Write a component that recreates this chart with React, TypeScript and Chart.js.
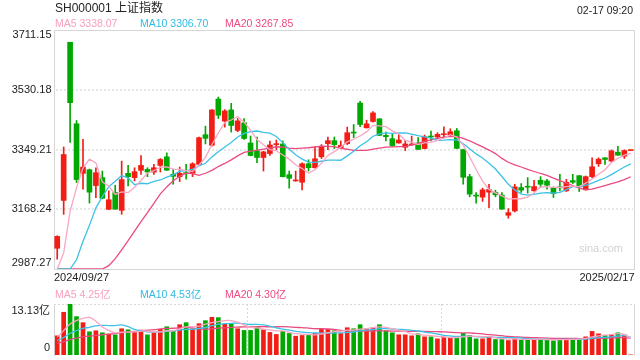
import React, { useEffect, useRef } from "react";
import { Chart, registerables } from "chart.js";

Chart.register(...registerables);

// ---------- data ----------
const TITLE = "SH000001 上证指数";
const STAMP = "02-17 09:20";
const dates: string[] = (
  "2024/09/27 2024/09/30 " +
  "2024/10/08 2024/10/09 2024/10/10 2024/10/11 2024/10/14 2024/10/15 2024/10/16 2024/10/17 2024/10/18 " +
  "2024/10/21 2024/10/22 2024/10/23 2024/10/24 2024/10/25 2024/10/28 2024/10/29 2024/10/30 2024/10/31 " +
  "2024/11/01 2024/11/04 2024/11/05 2024/11/06 2024/11/07 2024/11/08 2024/11/11 2024/11/12 2024/11/13 2024/11/14 " +
  "2024/11/15 2024/11/18 2024/11/19 2024/11/20 2024/11/21 2024/11/22 2024/11/25 2024/11/26 2024/11/27 2024/11/28 2024/11/29 " +
  "2024/12/02 2024/12/03 2024/12/04 2024/12/05 2024/12/06 2024/12/09 2024/12/10 2024/12/11 2024/12/12 2024/12/13 " +
  "2024/12/16 2024/12/17 2024/12/18 2024/12/19 2024/12/20 2024/12/23 2024/12/24 2024/12/25 2024/12/26 2024/12/27 " +
  "2024/12/30 2024/12/31 " +
  "2025/01/02 2025/01/03 2025/01/06 2025/01/07 2025/01/08 2025/01/09 2025/01/10 2025/01/13 2025/01/14 2025/01/15 " +
  "2025/01/16 2025/01/17 2025/01/20 2025/01/21 2025/01/22 2025/01/23 2025/01/24 2025/01/27 " +
  "2025/02/05 2025/02/06 2025/02/07 2025/02/10 2025/02/11 2025/02/12 2025/02/13 2025/02/14 2025/02/17"
).split(" ");

const opens: number[] = [
  3050, 3195, 3674, 3427, 3277, 3288, 3240, 3264, 3168, 3219,
  3165, 3277, 3264, 3286, 3289, 3281, 3301, 3327, 3274, 3267,
  3278, 3277, 3304, 3394, 3362, 3502, 3435, 3469, 3407, 3430,
  3369, 3345, 3325, 3337, 3364, 3366, 3273, 3254, 3250, 3306,
  3294, 3327, 3367, 3376, 3353, 3367, 3402, 3490, 3415, 3434,
  3442, 3392, 3382, 3369, 3356, 3363, 3369, 3352, 3390, 3387,
  3394, 3393, 3406, 3349, 3267, 3211, 3205, 3220, 3219, 3211,
  3150, 3163, 3234, 3238, 3224, 3256, 3254, 3232, 3236, 3224,
  3255, 3270, 3227, 3267, 3306, 3324, 3314, 3341, 3329, 3346,
];
const highs: number[] = [
  3088, 3357, 3674, 3437, 3380, 3290, 3294, 3284, 3224, 3241,
  3314, 3301, 3294, 3331, 3294, 3304, 3322, 3339, 3289, 3296,
  3304, 3309, 3387, 3420, 3470, 3508, 3470, 3489, 3443, 3443,
  3390, 3387, 3344, 3375, 3378, 3375, 3284, 3284, 3309, 3318,
  3357, 3364, 3387, 3387, 3375, 3417, 3425, 3495, 3438, 3464,
  3443, 3402, 3397, 3395, 3377, 3390, 3385, 3393, 3405, 3400,
  3418, 3412, 3413, 3350, 3274, 3219, 3232, 3244, 3226, 3219,
  3170, 3244, 3246, 3264, 3256, 3267, 3259, 3236, 3274, 3259,
  3274, 3270, 3269, 3324, 3324, 3325, 3348, 3359, 3348, 3346,
];
const lows: number[] = [
  3017, 3153, 3371, 3249, 3229, 3187, 3203, 3200, 3167, 3168,
  3153, 3239, 3254, 3274, 3267, 3274, 3281, 3286, 3244, 3252,
  3259, 3267, 3300, 3366, 3359, 3443, 3417, 3402, 3403, 3380,
  3330, 3309, 3284, 3331, 3349, 3266, 3232, 3253, 3227, 3284,
  3293, 3322, 3349, 3352, 3352, 3364, 3385, 3418, 3414, 3432,
  3391, 3375, 3359, 3368, 3346, 3362, 3349, 3351, 3375, 3385,
  3385, 3390, 3352, 3244, 3206, 3187, 3192, 3173, 3206, 3168,
  3141, 3160, 3219, 3217, 3223, 3234, 3229, 3204, 3224, 3222,
  3246, 3222, 3226, 3264, 3298, 3304, 3312, 3331, 3322, 3346,
];
const closes: number[] = [
  3086, 3334, 3491, 3258, 3296, 3220, 3279, 3201.5, 3197, 3168.5,
  3258, 3267, 3282, 3301, 3281, 3294, 3319, 3286.5, 3268, 3277,
  3276, 3306, 3385, 3383, 3469, 3453, 3466, 3422, 3436, 3382.5,
  3331, 3325, 3342, 3363, 3366, 3267, 3262, 3256, 3306, 3294,
  3321, 3359, 3376, 3364, 3362, 3400, 3399, 3425, 3427, 3460,
  3392, 3388, 3361, 3378, 3366, 3365, 3349.5, 3388, 3387, 3395,
  3397, 3403, 3352.5, 3265, 3214, 3208, 3227, 3228, 3212, 3168.5,
  3158, 3236, 3226, 3235, 3237, 3244, 3241, 3216, 3233, 3250,
  3250, 3236, 3267, 3297, 3320, 3319, 3345, 3332, 3346, 3346,
];
// closes of the 19 sessions before the first candle (only used to warm up the MAs)
const prevCloses: number[] = [
  2823.1, 2842.2, 2811.0, 2803.0, 2784.3, 2788.3, 2765.8, 2736.5, 2744.2, 2721.8,
  2717.1, 2704.1, 2717.3, 2736.0, 2736.8, 2748.9, 2863.1, 2896.3, 3001.0,
];

// volume, unit 亿
const volumes: number[] = [
  4.94, 11.0, 13.13, 9.88, 8.32, 5.98, 6.24, 5.72, 5.37, 5.2,
  6.76, 6.5, 5.89, 6.41, 5.2, 5.72, 6.59, 7.28, 6.24, 7.8,
  8.32, 6.76, 8.06, 8.84, 9.71, 9.62, 7.97, 8.15, 6.76, 6.33,
  6.33, 7.28, 6.5, 5.81, 5.29, 6.07, 5.55, 4.85, 5.03, 5.03,
  5.55, 6.59, 6.59, 6.24, 5.55, 7.02, 6.76, 7.8, 6.76, 7.02,
  7.8, 6.24, 5.72, 5.2, 5.2, 4.94, 5.46, 4.68, 4.68, 4.16,
  4.51, 4.51, 4.68, 5.55, 5.03, 4.16, 4.16, 4.68, 3.99, 3.99,
  3.73, 4.51, 3.99, 3.99, 3.99, 3.99, 3.99, 3.64, 4.25, 3.99,
  4.25, 4.25, 4.68, 6.07, 5.46, 5.03, 5.2, 5.72, 5.2, 0.05,
];
const prevVolumes: number[] = [
  2.4, 2.2, 2.5, 2.3, 2.1, 2.4, 2.2, 2.3, 2.4, 2.2,
  2.9, 2.6, 2.7, 2.8, 3.0, 2.6, 4.6, 5.6, 5.3,
];

const yTicks: number[] = [2987.27, 3168.24, 3349.21, 3530.18, 3711.15];
const volMax = 13.13;
const volTickLabels: string[] = ["13.13亿", "0"];
const maLegend: string[] = ["MA5 3338.07", "MA10 3306.70", "MA20 3267.85"];
const volLegend: string[] = ["MA5 4.25亿", "MA10 4.53亿", "MA20 4.30亿"];
const maPeriods: number[] = [5, 10, 20];

// ---------- styles ----------
const RED = "#f21d15";
const GREEN = "#02a802";
const MA_COLORS = ["#f9a6c3", "#3cc2e6", "#eb4a80"];
const MA_TEXT = ["#f7a0bf", "#2fbbe2", "#ec4a7f"];
const FONT = '"Liberation Sans", Arial, "Noto Sans CJK SC", sans-serif';
const GRID = "#e6e6e6";
const FRAME = "#d6d6d6";

function movingAvg(vals: number[], prev: number[], n: number): number[] {
  const all = prev.concat(vals);
  return vals.map((_, i) => {
    const j = i + prev.length;
    let s = 0;
    for (let k = j - n + 1; k <= j; k++) s += all[k];
    return s / n;
  });
}

const candleColors = opens.map((o, i) => (closes[i] >= o ? RED : GREEN));

const mainDecor = {
  id: "mainDecor",
  beforeDatasetsDraw(chart: any) {
    const { ctx, chartArea: a, scales } = chart;
    const y = scales.y;
    ctx.save();
    ctx.strokeStyle = GRID;
    ctx.lineWidth = 2;
    ctx.setLineDash([2, 2]);
    for (const v of yTicks.slice(1, -1)) {
      const py = Math.round(y.getPixelForValue(v));
      ctx.beginPath();
      ctx.moveTo(a.left + 2, py);
      ctx.lineTo(a.right - 1, py);
      ctx.stroke();
    }
    ctx.setLineDash([]);
    ctx.lineWidth = 1;
    ctx.strokeStyle = FRAME;
    ctx.strokeRect(a.left + 0.5, a.top + 0.5, a.right - a.left, a.bottom - a.top);
    // watermark
    ctx.fillStyle = "#d2d2d2";
    ctx.font = `11px ${FONT}`;
    ctx.textAlign = "right";
    ctx.textBaseline = "middle";
    ctx.fillText("sina.com", a.right - 11, a.bottom - 20);
    ctx.restore();
  },
  afterDraw(chart: any) {
    const { ctx, chartArea: a, scales } = chart;
    const y = scales.y;
    ctx.save();
    ctx.textBaseline = "middle";
    // title + time stamp
    ctx.fillStyle = "#222";
    ctx.font = `12px ${FONT}`;
    ctx.textAlign = "left";
    ctx.fillText(TITLE, a.left + 1, 8.5);
    ctx.font = `10.5px ${FONT}`;
    ctx.textAlign = "right";
    ctx.fillText(STAMP, a.right - 1, 11);
    // MA legend
    ctx.textAlign = "left";
    ctx.font = `10.5px ${FONT}`;
    const lx = [a.left + 1, a.left + 86, a.left + 171];
    maLegend.forEach((t, i) => {
      ctx.fillStyle = MA_TEXT[i];
      ctx.fillText(t, lx[i], 24);
    });
    // y labels
    ctx.fillStyle = "#222";
    ctx.font = `11px ${FONT}`;
    ctx.textAlign = "right";
    for (const v of yTicks) {
      let py = y.getPixelForValue(v);
      py = Math.min(Math.max(py, a.top + 5), a.bottom - 6);
      ctx.fillText(v.toFixed(2), a.left - 2.5, py);
    }
    // x labels
    ctx.textAlign = "left";
    ctx.fillText(dates[0], a.left, 278);
    ctx.textAlign = "right";
    ctx.fillText(dates[dates.length - 1], a.right + 0.5, 278);
    ctx.restore();
  },
};

const volDecor = {
  id: "volDecor",
  beforeDatasetsDraw(chart: any) {
    const { ctx, chartArea: a } = chart;
    ctx.save();
    ctx.strokeStyle = "#d8d8d8";
    ctx.lineWidth = 1;
    ctx.setLineDash([2, 2]);
    ctx.beginPath();
    ctx.moveTo(a.left, a.top + 0.5);
    ctx.lineTo(a.right, a.top + 0.5);
    for (const f of [1 / 3, 2 / 3]) {
      const px = Math.round(a.left + (a.right - a.left) * f) + 0.5;
      ctx.moveTo(px, a.top);
      ctx.lineTo(px, a.bottom);
    }
    ctx.stroke();
    ctx.setLineDash([]);
    ctx.strokeStyle = FRAME;
    ctx.beginPath();
    ctx.moveTo(a.left + 0.5, a.top);
    ctx.lineTo(a.left + 0.5, a.bottom + 1);
    ctx.moveTo(a.right + 0.5, a.top);
    ctx.lineTo(a.right + 0.5, a.bottom + 1);
    ctx.stroke();
    ctx.restore();
  },
  afterDraw(chart: any) {
    const { ctx, chartArea: a } = chart;
    ctx.save();
    ctx.textBaseline = "middle";
    ctx.font = `10.5px ${FONT}`;
    ctx.textAlign = "left";
    const lx = [a.left + 1, a.left + 86, a.left + 171];
    volLegend.forEach((t, i) => {
      ctx.fillStyle = MA_TEXT[i];
      ctx.fillText(t, lx[i], 295);
    });
    ctx.fillStyle = "#222";
    ctx.font = `11px ${FONT}`;
    ctx.textAlign = "right";
    ctx.fillText(volTickLabels[0], a.left - 4, a.top + 6.5);
    ctx.fillText(volTickLabels[1], a.left - 4, a.bottom - 7);
    ctx.restore();
  },
};

export default function App() {
  const mainRef = useRef<HTMLCanvasElement>(null);
  const volRef = useRef<HTMLCanvasElement>(null);

  useEffect(() => {
    const yMin = yTicks[0];
    const yMax = yTicks[yTicks.length - 1];
    const priceMA = maPeriods.map((n) =>
      movingAvg(closes, prevCloses, n).map((v) => Math.max(yMin, v))
    );
    const volMA = maPeriods.map((n) => movingAvg(volumes, prevVolumes, n));

    const main = new Chart(mainRef.current!, {
      type: "bar",
      data: {
        labels: dates,
        datasets: [
          ...priceMA.map((d, i) => ({
            type: "line" as const,
            label: `MA${maPeriods[i]}`,
            data: d,
            borderColor: MA_COLORS[i],
            borderWidth: 1.3,
            pointRadius: 0,
            tension: 0,
            order: i,
          })),
          {
            type: "bar" as const,
            label: "body",
            data: opens.map((o, i) => [o, closes[i]]),
            backgroundColor: candleColors,
            barThickness: 5,
            minBarLength: 1,
            grouped: false,
            order: 3,
          },
          {
            type: "bar" as const,
            label: "wick",
            data: lows.map((l, i) => [l, highs[i]]),
            backgroundColor: candleColors,
            barThickness: 1,
            grouped: false,
            order: 4,
          },
        ] as any,
      },
      options: {
        animation: false,
        responsive: false,
        maintainAspectRatio: false,
        layout: { padding: { left: 54, right: 6, top: 30, bottom: 91 } },
        plugins: { legend: { display: false }, tooltip: { enabled: false } },
        scales: {
          x: { display: false, offset: true },
          y: { display: false, min: yMin, max: yMax },
        },
      },
      plugins: [mainDecor],
    });

    const vol = new Chart(volRef.current!, {
      type: "bar",
      data: {
        labels: dates,
        datasets: [
          ...volMA.map((d, i) => ({
            type: "line" as const,
            label: `VMA${maPeriods[i]}`,
            data: d,
            borderColor: MA_COLORS[i],
            borderWidth: 1.3,
            pointRadius: 0,
            tension: 0.4,
            order: i,
          })),
          {
            type: "bar" as const,
            label: "volume",
            data: volumes,
            backgroundColor: candleColors,
            barThickness: 4,
            grouped: false,
            order: 3,
          },
        ] as any,
      },
      options: {
        animation: false,
        responsive: false,
        maintainAspectRatio: false,
        layout: { padding: { left: 54, right: 6, top: 304, bottom: 5 } },
        plugins: { legend: { display: false }, tooltip: { enabled: false } },
        scales: {
          x: { display: false, offset: true },
          y: { display: false, min: 0, max: volMax },
        },
      },
      plugins: [volDecor],
    });

    return () => {
      main.destroy();
      vol.destroy();
    };
  }, []);

  const cs: React.CSSProperties = { position: "absolute", left: 0, top: 0, width: 640, height: 360 };
  return (
    <div style={{ position: "fixed", left: 0, top: 0, width: 640, height: 360, background: "#fff" }}>
      <canvas ref={mainRef} width={640} height={360} style={cs} />
      <canvas ref={volRef} width={640} height={360} style={cs} />
    </div>
  );
}
